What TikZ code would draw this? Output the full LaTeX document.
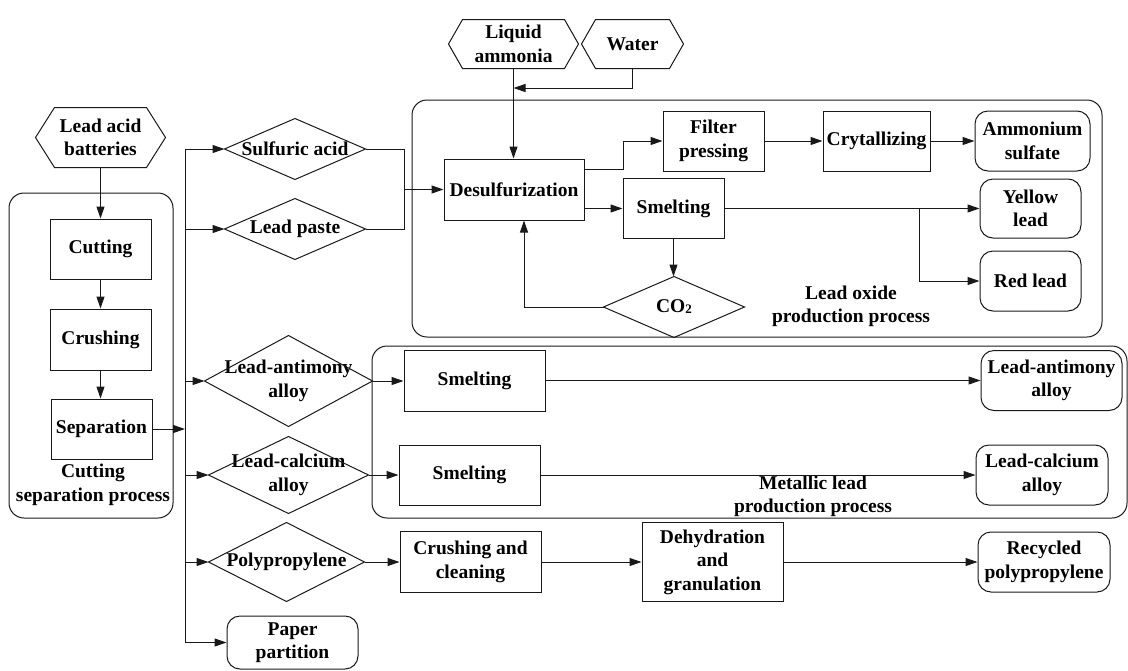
\documentclass[tikz,border=0pt]{standalone}
\usepackage{fontspec}
\setmainfont{Liberation Serif}
\usetikzlibrary{arrows.meta}

% outline of a hexagon around a named node (#2 = depth of the side points)
\newcommand\hexdraw[2]{\draw (#1.west) -- ([xshift=#2pt]#1.north west) -- ([xshift=-#2pt]#1.north east) -- (#1.east) -- ([xshift=-#2pt]#1.south east) -- ([xshift=#2pt]#1.south west) -- cycle;}
% outline of a diamond around a named node
\newcommand\diadraw[1]{\draw (#1.west) -- (#1.north) -- (#1.east) -- (#1.south) -- cycle;}

\tikzset{
  txt/.style={inner sep=0pt, align=center, text=black,
    font=\fontsize{19.5}{23.5}\selectfont\bfseries},
  sz/.style 2 args={minimum width=#1pt, minimum height=#2pt},
  proc/.style={txt, draw, rectangle},
  term/.style={txt, draw, rectangle, rounded corners=13pt},
  grp/.style={draw, rectangle, rounded corners=15pt, inner sep=0pt},
  arr/.style={-{Triangle[length=12pt,width=8pt]}},
}

\begin{document}
\begin{tikzpicture}[x=1pt,y=-1pt,line width=1pt,draw=black!90]
\useasboundingbox (0,0) rectangle (1128,670);

% process groups
\node[grp, sz={164}{325}] (gcut) at (91,355.5) {};
\node[grp, sz={690}{237}] (gox) at (757,218.5) {};
\node[grp, sz={755}{172}] (gmet) at (749.5,432) {};
\node[txt] (lcut) at (93,485) {Cutting\\separation process};
\node[txt] (lox) at (851,306.5) {Lead oxide\\production process};
\node[txt] (lmet) at (813,496.5) {Metallic lead\\production process};

% raw materials
\node[txt, sz={129}{59}] (lab) at (100.5,137.5) {Lead acid\\batteries};
\hexdraw{lab}{19}
\node[txt, sz={129}{48}] (la) at (513.5,44) {Liquid\\ammonia};
\hexdraw{la}{14}
\node[txt, sz={101}{48}] (water) at (632.5,44) {Water};
\hexdraw{water}{14}

% cutting and separation
\node[proc, sz={101}{60}] (cut) at (100.5,249) {Cutting};
\node[proc, sz={101}{61}] (crush) at (100.5,339.5) {Crushing};
\node[proc, sz={101}{60}] (sep) at (101.5,429) {Separation};

% separated fractions
\node[txt, sz={140}{60}] (sulf) at (295,149) {Sulfuric acid};
\diadraw{sulf}
\node[txt, sz={140}{60}] (paste) at (295,229) {Lead paste};
\diadraw{paste}
\node[txt, sz={167}{90}] (lad) at (288.5,381) {Lead-antimony\\alloy};
\diadraw{lad}
\node[txt, sz={159}{76}] (lcd) at (288.5,475) {Lead-calcium\\alloy};
\diadraw{lcd}
\node[txt, sz={155}{78}] (pp) at (286.5,562) {Polypropylene};
\diadraw{pp}
\node[term, sz={131}{53}] (paper) at (292.5,642.5) {Paper\\partition};

% lead oxide production
\node[proc, sz={140}{61}] (desulf) at (514,189.5) {Desulfurization};
\node[proc, sz={101}{60}] (filter) at (713.5,141) {Filter\\pressing};
\node[proc, sz={107}{60}] (cryst) at (876.5,141) {Crytallizing};
\node[term, sz={115}{60}] (amm) at (1032.5,141) {Ammonium\\sulfate};
\node[proc, sz={101}{60}] (smelt) at (673.5,208.5) {Smelting};
\node[term, sz={101}{59}] (yl) at (1030.5,208.5) {Yellow\\lead};
\node[term, sz={101}{60}] (rl) at (1030.5,281) {Red lead};
\node[txt, sz={140}{60}] (co2) at (674,307) {CO\raisebox{-1pt}{\fontsize{13}{13}\selectfont 2}};
\diadraw{co2}

% metallic lead production
\node[proc, sz={141}{61}] (s1) at (474.5,380.5) {Smelting};
\node[term, sz={141}{60}] (laa) at (1051.5,380.5) {Lead-antimony\\alloy};
\node[proc, sz={141}{60}] (s2) at (469.5,475) {Smelting};
\node[term, sz={132}{60}] (lca) at (1042,475) {Lead-calcium\\alloy};

% polypropylene recycling
\node[proc, sz={141}{61}] (cc) at (470.5,562) {Crushing and\\cleaning};
\node[proc, sz={141}{79}] (dg) at (712.5,562) {Dehydration\\and\\granulation};
\node[term, sz={132}{60}] (rp) at (1044,562) {Recycled\\polypropylene};

% junction points
\coordinate (bt) at (185,149);
\coordinate (jn) at (404,189.5);
\coordinate (wj) at (513.5,88);
\coordinate (br) at (919,208.5);

% cutting line
\draw[arr] (lab.south) -- (cut.north);
\draw[arr] (cut.south) -- (crush.north);
\draw[arr] (crush.south) -- (sep.north -| crush.south);
\draw[arr] (sep.east) -- (sep.east -| bt);

% distribution bus
\draw (bt) -- (bt |- paper.west);
\draw[arr] (sulf.west -| bt) -- (sulf.west);
\draw[arr] (paste.west -| bt) -- (paste.west);
\draw[arr] (lad.west -| bt) -- (lad.west);
\draw[arr] (lcd.west -| bt) -- (lcd.west);
\draw[arr] (pp.west -| bt) -- (pp.west);
\draw[arr] (paper.west -| bt) -- (paper.west);

% lead oxide connectors
\draw (sulf.east) -| (jn);
\draw (paste.east) -| (jn);
\draw[arr] (jn) -- (jn -| desulf.west);
\draw[arr] (la.south) -- (la.south |- desulf.north);
\draw[arr] (water.south) |- (wj);
\draw[arr] ([yshift=20pt]desulf.east) -- ++(39,0) |- (filter.west);
\draw[arr] (filter.east) -- (cryst.west);
\draw[arr] (cryst.east) -- (amm.west);
\draw[arr] (smelt.west -| desulf.east) -- (smelt.west);
\draw[arr] (smelt.east) -- (yl.west);
\draw[arr] (br) |- (rl.west);
\draw[arr] (smelt.south) -- (smelt.south |- co2.north);
\draw[arr] (co2.west) -| ([xshift=10pt]desulf.south);

% metallic lead connectors
\draw[arr] (lad.east) -- (lad.east -| s1.west);
\draw[arr] (s1.east) -- (s1.east -| laa.west);
\draw[arr] (lcd.east) -- (lcd.east -| s2.west);
\draw[arr] (s2.east) -- (s2.east -| lca.west);

% polypropylene connectors
\draw[arr] (pp.east) -- (pp.east -| cc.west);
\draw[arr] (cc.east) -- (cc.east -| dg.west);
\draw[arr] (dg.east) -- (dg.east -| rp.west);
\end{tikzpicture}
\end{document}
